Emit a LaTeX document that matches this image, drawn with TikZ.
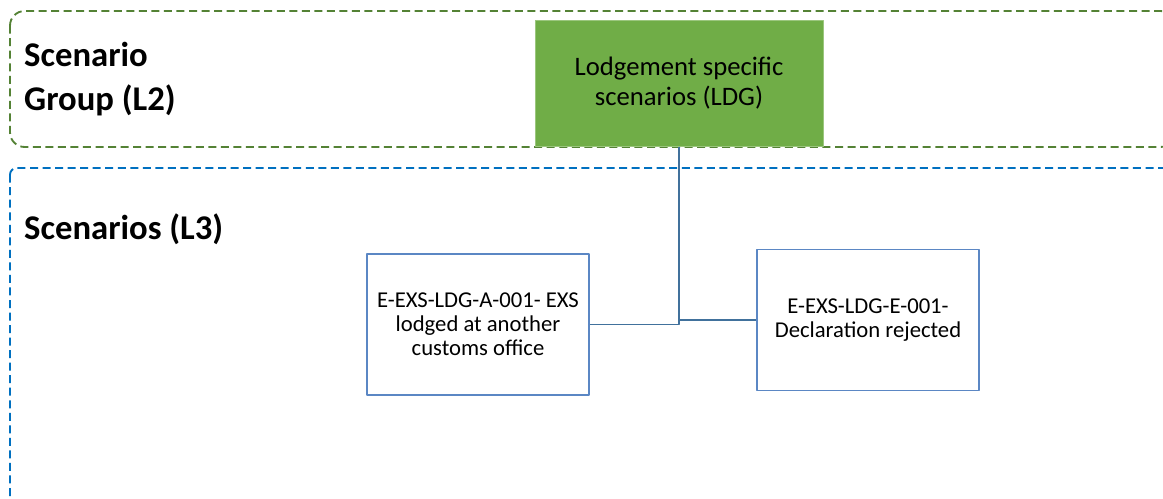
\documentclass[tikz,border=0pt]{standalone}
\usepackage{fontspec}
\setmainfont{Carlito}
\definecolor{grpgreen}{RGB}{84,130,53}
\definecolor{scnblue}{RGB}{0,112,192}
\definecolor{ldgfill}{RGB}{112,173,71}
\definecolor{boxblue}{RGB}{91,135,196}
\definecolor{wireblue}{RGB}{65,113,156}
\begin{document}
\begin{tikzpicture}[x=0.75pt,y=-0.75pt, line join=round]

% frame + box styles
\tikzset{
  grpframe/.style={draw=grpgreen, line width=1.4pt, dash pattern=on 6pt off 3.4pt, rounded corners=11pt},
  scnframe/.style={draw=scnblue, line width=1.4pt, dash pattern=on 6pt off 3.4pt, rounded corners=5pt},
  ldgbox/.style={rectangle, fill=ldgfill, draw=ldgfill!70!white, line width=0.6pt, minimum width=216pt, minimum height=94pt, align=center, font=\fontsize{20}{22.5}\selectfont},
  scnbox/.style={rectangle, draw=boxblue, fill=white, line width=1.1pt, minimum width=166.5pt, minimum height=105.75pt, align=center, inner sep=2pt, font=\fontsize{17}{18}\selectfont},
  wire/.style={draw=wireblue, line width=1.1pt},
  lvl/.style={anchor=north west, align=left, font=\bfseries\fontsize{26}{33}\selectfont},
}

  \useasboundingbox (0,0) rectangle (1163,499);
  \clip (0,0) rectangle (1163,499);

  % level frames
  \draw[grpframe] (10,11) rectangle (1175,147);
  \draw[scnframe] (10,168) rectangle (1180,530);

  % level labels
  \node[lvl] (grplab) at (19.5,37) {Scenario\\Group (L2)};
  \node[lvl] (scnlab) at (19.5,209) {Scenarios (L3)};

  % nodes
  \node[ldgbox] (ldg) at (679,83.5) {Lodgement specific\\scenarios (LDG)};
  \node[scnbox] (lodged) at (478,324.5) {E-EXS-LDG-A-001- EXS\\lodged at another\\customs office};
  \node[scnbox] (rejected) at (868,320) {E-EXS-LDG-E-001-\\Declaration rejected};

  % edges
  \draw[wire] (ldg.south) |- (lodged.east);
  \draw[wire] (ldg.south) |- (rejected.west);

\end{tikzpicture}
\end{document}
